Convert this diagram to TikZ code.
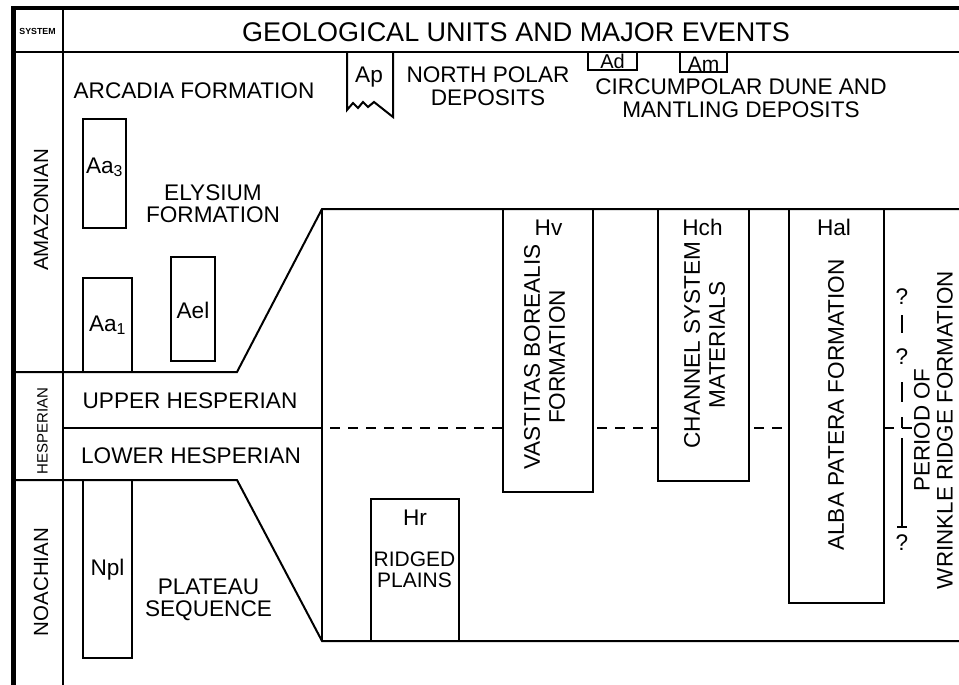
\documentclass[tikz,border=0pt]{standalone}
\usepackage{fontspec}
\setmainfont{Liberation Sans}
\begin{document}
\begin{tikzpicture}[x=1pt,y=-1pt,
  lbl/.style={font=\fontsize{22.6}{22.6}\selectfont, inner sep=0pt, outer sep=0pt},
  ml/.style={lbl, align=center},
  unit/.style={draw, line width=2pt, inner sep=0pt, outer sep=0pt, anchor=north west},
  ln/.style={line width=2pt},
  framel/.style={line width=4.5pt},
  dsh/.style={line width=2pt, dash pattern=on 10pt off 8pt}]
\useasboundingbox (0,0) rectangle (959,685);

% frame
\draw[framel] (13.5,685) -- (13.5,8) -- (959,8);
\draw[ln] (13.5,52.5) -- (959,52.5);
\draw[ln] (62.5,8) -- (62.5,685);

% period boundaries
\draw[ln, line join=miter] (13.5,372) -- (237,372) -- (322,209) -- (959,209);
\draw[ln, line join=miter] (13.5,480) -- (237,480) -- (322,641) -- (959,641);
\draw[ln] (322,209) -- (322,641);
\draw[ln] (62.5,428) -- (322,428);
\draw[dsh] (330,428) -- (503,428);
\draw[dsh] (597,428) -- (658,428);
\draw[dsh] (754,428) -- (789,428);
\draw[dsh] (884,428) -- (915,428);

% header texts
\node[font=\fontsize{8.8}{9}\selectfont\bfseries, inner sep=0pt, anchor=base] (sys) at (37.5,34.2) {SYSTEM};
\node[font=\fontsize{27}{27}\selectfont, inner sep=0pt, anchor=base] (title) at (516,41.7) {GEOLOGICAL UNITS AND MAJOR EVENTS};

% system labels
\node[font=\fontsize{20.5}{20.5}\selectfont, inner sep=0pt, rotate=90] (amaz) at (41,210) {AMAZONIAN};
\node[font=\fontsize{15}{15}\selectfont, inner sep=0pt, rotate=90] (hesp) at (42.5,431) {HESPERIAN};
\node[font=\fontsize{20.5}{20.5}\selectfont, inner sep=0pt, rotate=90] (noach) at (41,582) {NOACHIAN};

% Amazonian units
\node[lbl, anchor=base] (arcadia) at (194,99) {ARCADIA FORMATION};
\draw[ln, line join=miter] (347,52.5) -- (347,110) -- (353,103) -- (358,108) -- (363,102) -- (368,107) -- (374,102) -- (393,117) -- (393,52.5);
\node[lbl, anchor=base] (ap) at (369,82) {Ap};
\node[ml, font=\fontsize{22.6}{22.5}\selectfont] (npd) at (488,86) {NORTH POLAR\\DEPOSITS};
\node[unit, minimum width=49pt, minimum height=17.5pt] (ad) at (588,52.5) {};
\node[font=\fontsize{20}{20}\selectfont, inner sep=0pt, anchor=base] (adl) at (612.5,68.5) {Ad};
\node[unit, minimum width=47pt, minimum height=20pt] (am) at (680,52.5) {};
\node[font=\fontsize{21}{21}\selectfont, inner sep=0pt, anchor=base] (aml) at (703.5,71) {Am};
\node[ml, font=\fontsize{22.6}{22.5}\selectfont] (circ) at (741,98) {CIRCUMPOLAR DUNE AND\\MANTLING DEPOSITS};

\node[unit, minimum width=43pt, minimum height=109pt] (aa3) at (83,119) {};
\node[lbl, anchor=base] (aa3l) at (104.5,173) {Aa\textsubscript{3}};
\node[unit, minimum width=49pt, minimum height=94pt] (aa1) at (83,278) {};
\node[lbl, anchor=base] (aa1l) at (107.5,331) {Aa\textsubscript{1}};
\node[unit, minimum width=44pt, minimum height=104pt] (ael) at (171,257) {};
\node[lbl, anchor=base] (aell) at (193,318) {Ael};
\node[ml, font=\fontsize{22.6}{21.5}\selectfont] (elys) at (213,203.5) {ELYSIUM\\FORMATION};

% Hesperian
\node[lbl, anchor=base] (uh) at (190,408) {UPPER HESPERIAN};
\node[lbl, anchor=base] (lh) at (191,463) {LOWER HESPERIAN};

\node[unit, minimum width=90pt, minimum height=283pt] (hv) at (503,209) {};
\node[lbl, anchor=base] (hvl) at (548.5,235) {Hv};
\node[ml, font=\fontsize{22.6}{25}\selectfont, rotate=90] (vast) at (544.5,357) {VASTITAS BOREALIS\\FORMATION};

\node[unit, minimum width=91pt, minimum height=272pt] (hch) at (658,209) {};
\node[lbl, anchor=base] (hchl) at (702.5,235) {Hch};
\node[ml, font=\fontsize{22.6}{25}\selectfont, rotate=90] (chan) at (704.5,345) {CHANNEL SYSTEM\\MATERIALS};

\node[unit, minimum width=95pt, minimum height=394pt] (hal) at (789,209) {};
\node[lbl, anchor=base] (hall) at (834,235) {Hal};
\node[lbl, rotate=90] (alba) at (836,405) {ALBA PATERA FORMATION};

\node[unit, minimum width=88pt, minimum height=142pt] (hr) at (371,499) {};
\node[lbl, anchor=base] (hrl) at (415,525) {Hr};
\node[ml, font=\fontsize{21}{21}\selectfont] (ridged) at (414.5,570) {RIDGED\\PLAINS};

% wrinkle ridges
\node[lbl] (q1) at (902,297) {?};
\node[lbl] (q2) at (902,357) {?};
\node[lbl] (q3) at (902,543) {?};
\draw[ln] (902,315) -- (902,333);
\draw[ln] (902,382) -- (902,402);
\draw[ln] (902,417) -- (902,428);
\draw[ln] (902,438) -- (902,527);
\draw[ln] (897,527) -- (907,527);
\node[ml, font=\fontsize{22.4}{23}\selectfont, rotate=90] (wr) at (933.5,430) {PERIOD OF\\WRINKLE RIDGE FORMATION};

% Noachian
\node[unit, minimum width=49pt, minimum height=178pt] (npl) at (83,480) {};
\node[lbl, anchor=base] (npll) at (107.5,575) {Npl};
\node[ml, font=\fontsize{22.6}{21.5}\selectfont] (plat) at (208.5,600) {PLATEAU\\SEQUENCE};
\end{tikzpicture}
\end{document}
